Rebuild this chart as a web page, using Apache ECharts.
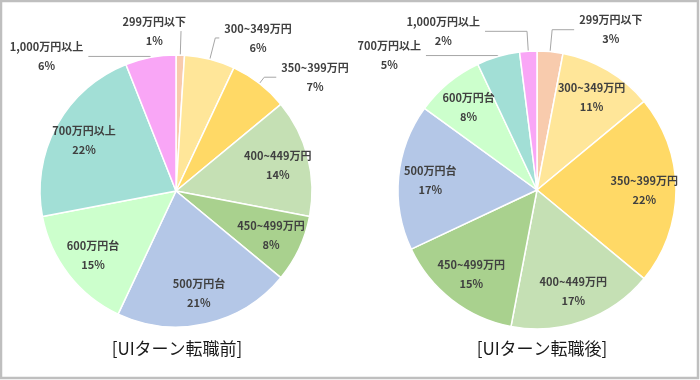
<!DOCTYPE html>
<html>
<head>
<meta charset="utf-8">
<script src="https://cdn.jsdelivr.net/npm/echarts@6/dist/echarts.min.js"></script>
<style>
html,body{margin:0;padding:0;background:#fff;}
#c{width:700px;height:380px;}
</style>
</head>
<body>
<div id="c"></div>
<script>
const categories = ['299万円以下','300~349万円','350~399万円','400~449万円','450~499万円','500万円台','600万円台','700万円以上','1,000万円以上'];
const beforeValues = [1,6,7,14,8,21,15,22,6];
const afterValues = [3,11,22,17,15,17,8,5,2];
const titles = ['[UIターン転職前]','[UIターン転職後]'];

const colors = ['#f8cbad','#ffe699','#ffd966','#c5e0b4','#a9d18e','#b4c7e7','#ccffcc','#a2dfd6','#f9a6f6'];
const FONT = '"Noto Sans CJK JP", "Noto Sans", sans-serif';

const txt = {color: '#404040', fontSize: 11, fontWeight: 'bold', fontFamily: FONT, lineHeight: 19, align: 'center'};
const labelBase = {
  color: '#404040', fontSize: 11, fontWeight: 'bold', fontFamily: FONT, lineHeight: 19,
  formatter: '{n|{b}}\n{n|{c}%}',
  rich: {n: txt}
};

// leader-line styling for the labels drawn outside the pie (index -> [length, length2, flip])
const outsideBefore = {0: [24, 0, true], 1: [22, 4], 2: [8, 12], 8: [1, 62]};
const outsideAfter = {0: [22, 22], 7: [1, 72], 8: [20, 42]};

function buildSeries(values, center, r, outside) {
  const mainData = categories.map((name, i) => {
    const o = outside[i];
    return {
      name, value: values[i],
      itemStyle: {color: colors[i]},
      label: {show: !!o},
      labelLine: o ? {show: true, length: o[0], length2: o[1]} : {show: false}
    };
  });
  const overlayData = categories.map((name, i) => ({
    name, value: values[i],
    label: {show: !outside[i]}
  }));
  return [
    {
      type: 'pie', center, radius: [0, r], startAngle: 90, clockwise: true,
      avoidLabelOverlap: false, silent: true,
      itemStyle: {borderColor: '#ffffff', borderWidth: 1.5},
      label: Object.assign({position: 'outside'}, labelBase),
      labelLine: {lineStyle: {color: '#a6a6a6', width: 1}},
      labelLayout: function (p) {
        const o = outside[p.dataIndex];
        if (o && o[2]) return {align: 'right'};
        return {};
      },
      emphasis: {disabled: true},
      data: mainData
    },
    {
      type: 'pie', center, radius: [r * 0.5, r], startAngle: 90, clockwise: true,
      silent: true,
      itemStyle: {color: 'rgba(0,0,0,0)', borderWidth: 0},
      label: Object.assign({position: 'inside'}, labelBase),
      labelLine: {show: false},
      emphasis: {disabled: true},
      data: overlayData
    }
  ];
}

const chart = echarts.init(document.getElementById('c'), null, {renderer: 'canvas'});
chart.setOption({
  animation: false,
  backgroundColor: '#ffffff',
  title: [
    {text: titles[0], left: 172, top: 335, textAlign: 'center',
     textStyle: {fontSize: 17, fontWeight: 'normal', color: '#1a1a1a', fontFamily: FONT}},
    {text: titles[1], left: 537, top: 335, textAlign: 'center',
     textStyle: {fontSize: 17, fontWeight: 'normal', color: '#1a1a1a', fontFamily: FONT}}
  ],
  graphic: [{
    type: 'rect', shape: {x: 1, y: 1, width: 697, height: 377},
    style: {fill: 'none', stroke: '#bfbfbf', lineWidth: 2.5}, silent: true
  }],
  series: [].concat(
    buildSeries(beforeValues, [176, 191], 136, outsideBefore),
    buildSeries(afterValues, [537, 190], 139, outsideAfter)
  )
});
</script>
</body>
</html>
